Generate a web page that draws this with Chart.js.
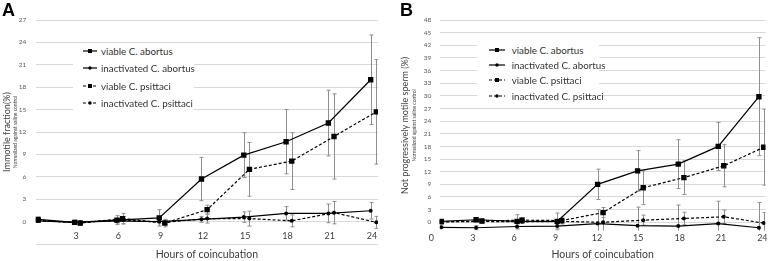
<!DOCTYPE html>
<html>
<head>
<meta charset="utf-8">
<script src="https://cdn.jsdelivr.net/npm/chart.js@4.4.1/dist/chart.umd.min.js"></script>
<style>
  body { margin: 0; background: #fff; width: 778px; height: 261px; position: relative; overflow: hidden; font-family: Lato, 'Open Sans', sans-serif; }
  canvas { position: absolute; top: 0; }
  .letter { position: absolute; top: 1px; font: bold 18px 'Liberation Sans', Arial, sans-serif; line-height: 18px; color: #000; }
  .legend { position: absolute; background: #fff; color: #333; font-size: 9.8px; }
  .legend .row { position: absolute; left: 0; height: 12px; white-space: nowrap; }
  .legend svg, .legend span { position: absolute; top: 0; }
  .legend span { line-height: 12px; }
</style>
</head>
<body>
<canvas id="chartA" width="388" height="261" style="left:0"></canvas>
<canvas id="chartB" width="390" height="261" style="left:388px"></canvas>
<div class="letter" style="left:2px">A</div>
<div class="letter" style="left:400px">B</div>
<div class="legend" id="legA" style="left:73px;top:45px;width:121px;height:67px"></div>
<div class="legend" id="legB" style="left:477px;top:38px;width:122px;height:64px"></div>
<script>
// series names (legend order)
const seriesNames = ['viable C. abortus', 'inactivated C. abortus', 'viable C. psittaci', 'inactivated C. psittaci'];

// --- panel A: immotile fraction (%) ---
const aXTicks = [3, 6, 9, 12, 15, 18, 21, 24];
const aYTicks = [-3, 0, 3, 6, 9, 12, 15, 18, 21, 24, 27];
const aXAbortus = [0.3, 2.9, 5.9, 8.9, 11.9, 14.9, 17.9, 20.9, 23.9];
const aXPsittaci = [0.3, 3.3, 6.3, 9.3, 12.3, 15.3, 18.3, 21.3, 24.3];
const aViableAbortus = [0.3, -0.1, 0.2, 0.5, 5.7, 8.9, 10.7, 13.2, 19.0];
const aViableAbortusErr = [0.3, 0.3, 0.6, 1.1, 2.9, 3.0, 4.3, 4.4, 6.0];
const aInactAbortus = [0.1, -0.1, 0.1, 0.0, 0.3, 0.6, 1.1, 1.1, 1.45];
const aInactAbortusErr = [0.2, 0.2, 0.3, 0.3, 0.4, 0.7, 0.9, 1.25, 1.1];
const aViablePsittaci = [0.2, -0.2, 0.4, -0.2, 1.6, 7.0, 8.1, 11.4, 14.7];
const aViablePsittaciErr = [0.3, 0.3, 0.7, 0.5, 0.6, 3.6, 3.8, 5.7, 7.0];
const aInactPsittaci = [0.1, -0.1, 0.2, -0.1, 0.4, 0.4, 0.1, 1.2, -0.1];
const aInactPsittaciErr = [0.2, 0.2, 0.5, 0.3, 0.6, 1.0, 0.8, 1.5, 0.8];

// --- panel B: not progressively motile sperm (%) ---
const bXTicks = [0, 3, 6, 9, 12, 15, 18, 21, 24];
const bYTicks = [0, 3, 6, 9, 12, 15, 18, 21, 24, 27, 30, 33, 36, 39, 42, 45, 48];
const bXAbortus = [0.71, 3.24, 6.21, 9.12, 12.05, 14.95, 17.9, 20.8, 23.75];
const bXPsittaci = [0.71, 3.66, 6.57, 9.45, 12.45, 15.36, 18.31, 21.2, 24.1];
const bViableAbortus = [0.2, 0.6, 0.2, 0.2, 9.0, 12.2, 13.8, 18.0, 29.8];
const bViableAbortusErr = [0.3, 0.5, 1.6, 2.0, 3.6, 4.8, 5.8, 5.7, 14.0];
const bInactAbortus = [-1.2, -1.3, -1.0, -0.9, -0.3, -0.8, -0.9, -0.3, -1.3];
const bInactAbortusErr = [0.3, 0.5, 0.6, 0.5, 3.3, 4.4, 5.0, 5.3, 6.0];
const bViablePsittaci = [0.1, 0.3, 0.5, 0.4, 2.3, 8.2, 10.6, 13.4, 17.8];
const bViablePsittaciErr = [0.3, 0.4, 0.6, 0.8, 1.2, 4.0, 4.0, 5.0, 9.0];
const bInactPsittaci = [0.1, 0.2, 0.1, 0.2, 0.0, 0.5, 0.9, 1.3, -0.2];
const bInactPsittaciErr = [0.3, 0.3, 0.4, 0.4, 2.5, 1.2, 1.5, 1.6, 2.5];

const styles = [
  { dash: [], point: 'rect', r: 3.8 },
  { dash: [], point: 'circle', r: 2 },
  { dash: [3, 2], point: 'rect', r: 3.8 },
  { dash: [3, 2], point: 'circle', r: 2 }
];

function series(i, xs, ys, errs) {
  const st = styles[i];
  return {
    label: seriesNames[i],
    data: xs.map((x, k) => ({ x: x, y: ys[k] })),
    errors: errs,
    borderColor: '#000',
    backgroundColor: '#000',
    borderWidth: 1.2,
    borderDash: st.dash,
    pointStyle: st.point,
    pointRadius: st.r,
    pointBorderWidth: 0,
    tension: 0,
    fill: false
  };
}

// grey error bars, drawn under the lines, clipped to the plot
const errorBars = {
  id: 'errorBars',
  beforeDatasetsDraw(chart) {
    const ctx = chart.ctx, a = chart.chartArea, ys = chart.scales.y;
    ctx.save();
    ctx.beginPath();
    ctx.rect(a.left, a.top, a.right - a.left, a.bottom - a.top);
    ctx.clip();
    ctx.strokeStyle = '#8f8f8f';
    ctx.lineWidth = 1;
    chart.data.datasets.forEach((ds, i) => {
      chart.getDatasetMeta(i).data.forEach((pt, k) => {
        const v = ds.data[k].y, e = ds.errors[k];
        const x = Math.round(pt.x) + 0.5;
        const t = ys.getPixelForValue(v + e), b = ys.getPixelForValue(v - e);
        ctx.beginPath();
        ctx.moveTo(x, t); ctx.lineTo(x, b);
        ctx.moveTo(x - 2, t); ctx.lineTo(x + 2, t);
        ctx.moveTo(x - 2, b); ctx.lineTo(x + 2, b);
        ctx.stroke();
      });
    });
    ctx.restore();
  }
};

const gridColor = '#d9d9d9';
const txt = '#404040';

function makeChart(id, p) {
  return new Chart(document.getElementById(id), {
    type: 'line',
    data: { datasets: p.datasets },
    plugins: [errorBars],
    options: {
      responsive: false,
      animation: false,
      layout: { padding: p.pad },
      plugins: { legend: { display: false }, tooltip: { enabled: false } },
      scales: {
        x: {
          type: 'linear', position: { y: 0 }, min: p.xMin, max: p.xMax,
          afterBuildTicks: s => { s.ticks = p.xTicks.map(v => ({ value: v })); },
          grid: { display: false, drawTicks: false },
          border: { display: false },
          ticks: { autoSkip: false, maxRotation: 0, font: { family: 'Lato', size: 9 }, color: txt, padding: p.xPad }
        },
        xTitle: {
          axis: 'x', type: 'linear', position: 'bottom',
          grid: { display: false, drawTicks: false }, border: { display: false },
          ticks: { display: false },
          title: { display: true, text: 'Hours of coincubation', color: txt, font: { family: 'Lato', size: 10.5 }, padding: { top: 0, bottom: p.xTitlePad } },
          afterFit: s => { s.height = p.xTitleH; }
        },
        y: {
          type: 'linear', position: 'left', min: p.yMin, max: p.yMax,
          afterBuildTicks: s => { s.ticks = p.yTicks.map(v => ({ value: v })); },
          grid: { color: gridColor, drawTicks: false },
          border: { display: false },
          ticks: { font: { family: 'Lato', size: 6.5 }, color: '#595959', padding: p.yPad, callback: v => v < 0 ? '' : v },
          title: { display: true, text: 'Normalized against saline control', color: txt, font: { family: 'Lato', size: 5 }, padding: { top: p.subPad, bottom: 0 } },
          afterFit: s => { s.width = p.yW; }
        },
        yTitle: {
          axis: 'y', type: 'linear', position: 'left', weight: 1,
          grid: { display: false, drawTicks: false }, border: { display: false },
          ticks: { display: false },
          title: { display: true, text: p.yTitle, color: txt, font: { family: 'Lato', size: 9 }, padding: { top: p.titlePad, bottom: 0 } },
          afterFit: s => { s.width = p.yTitleW; }
        }
      }
    }
  });
}

makeChart('chartA', {
  datasets: [
    series(0, aXAbortus, aViableAbortus, aViableAbortusErr),
    series(1, aXAbortus, aInactAbortus, aInactAbortusErr),
    series(2, aXPsittaci, aViablePsittaci, aViablePsittaciErr),
    series(3, aXPsittaci, aInactPsittaci, aInactPsittaciErr)
  ],
  pad: { top: 20, right: 10, bottom: 0, left: 0 },
  xMin: 0.14, xMax: 24.42, xTicks: aXTicks, xPad: 9.4,
  xTitleH: 17, xTitlePad: 0.5,
  yMin: -3, yMax: 27, yTicks: aYTicks, yPad: 9.5,
  yW: 23.7, subPad: 0.5,
  yTitle: 'Immotile fraction(%)', yTitleW: 12, titlePad: 1.5
});

makeChart('chartB', {
  datasets: [
    series(0, bXAbortus, bViableAbortus, bViableAbortusErr),
    series(1, bXAbortus, bInactAbortus, bInactAbortusErr),
    series(2, bXPsittaci, bViablePsittaci, bViablePsittaciErr),
    series(3, bXPsittaci, bInactPsittaci, bInactPsittaciErr)
  ],
  pad: { top: 20, right: 5, bottom: 0, left: 0 },
  xMin: 0.6, xMax: 24.23, xTicks: bXTicks, xPad: 10.3,
  xTitleH: 30.3, xTitlePad: 0,
  yMin: -2, yMax: 48, yTicks: bYTicks, yPad: 8.4,
  yW: 29.7, subPad: 1.5,
  yTitle: 'Not progressively motile sperm (%)', yTitleW: 22, titlePad: 12
});

// legends: line sample with marker, then the series name
function legend(id, rowsY, sampleX, sampleW, textX) {
  const box = document.getElementById(id);
  seriesNames.forEach((name, i) => {
    const st = styles[i];
    const row = document.createElement('div');
    row.className = 'row';
    row.style.top = (rowsY[i] - 6) + 'px';
    const mid = sampleW / 2;
    const mark = st.point === 'rect'
      ? '<rect x="' + (mid - 2) + '" y="4" width="4" height="4" fill="#000"/>'
      : '<circle cx="' + mid + '" cy="6" r="1.7" fill="#000"/>';
    row.innerHTML =
      '<svg width="' + sampleW + '" height="12" style="left:' + sampleX + 'px">' +
      '<line x1="0" y1="6" x2="' + sampleW + '" y2="6" stroke="#000" stroke-width="1.2"' +
      (st.dash.length ? ' stroke-dasharray="3,2"' : '') + '/>' + mark + '</svg>' +
      '<span style="left:' + textX + 'px">' + name + '</span>';
    box.appendChild(row);
  });
}
legend('legA', [6, 23.3, 41, 58.3], 9.7, 14, 28);
legend('legB', [12, 27, 42, 57.7], 12, 16, 34.7);
</script>
</body>
</html>
